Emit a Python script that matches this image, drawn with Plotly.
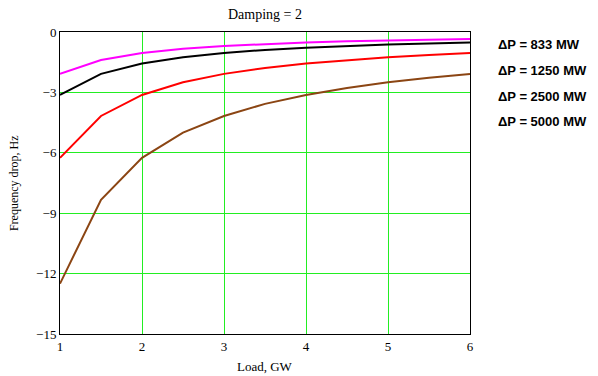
import plotly.graph_objects as go

load_gw = [1, 1.5, 2, 2.5, 3, 3.5, 4, 4.5, 5, 5.5, 6]
drop_833 = [-2.08, -1.39, -1.04, -0.83, -0.69, -0.60, -0.52, -0.46, -0.42, -0.38, -0.35]
drop_1250 = [-3.125, -2.08, -1.56, -1.25, -1.04, -0.89, -0.78, -0.69, -0.625, -0.57, -0.52]
drop_2500 = [-6.25, -4.17, -3.125, -2.5, -2.08, -1.79, -1.56, -1.39, -1.25, -1.14, -1.04]
drop_5000 = [-12.5, -8.33, -6.25, -5.0, -4.17, -3.57, -3.125, -2.78, -2.5, -2.27, -2.08]
series_names = ["ΔP = 833 MW", "ΔP = 1250 MW", "ΔP = 2500 MW", "ΔP = 5000 MW"]
series_colors = ["#ff00ff", "#000000", "#ff0000", "#8b4513"]
y_ticks = [0, -3, -6, -9, -12, -15]
y_tick_labels = ["0", "−3", "−6", "−9", "−12", "−15"]
x_ticks = [1, 2, 3, 4, 5, 6]

fig = go.Figure()
for ys, name, col in zip([drop_833, drop_1250, drop_2500, drop_5000], series_names, series_colors):
    fig.add_trace(go.Scatter(x=load_gw, y=ys, mode="lines", name=name,
                             line=dict(color=col, width=2), showlegend=False))

serif = "Liberation Serif, Times New Roman, serif"
legend_y = [0.957, 0.874, 0.788, 0.705]
for name, yy in zip(series_names, legend_y):
    fig.add_annotation(text="<b>" + name + "</b>", xref="paper", yref="paper",
                       x=1.064, y=yy, xanchor="left", yanchor="middle",
                       showarrow=False,
                       font=dict(family="Liberation Sans, Arial, sans-serif", size=13, color="black"))

fig.add_annotation(text="Load, GW", xref="paper", yref="paper", x=0.5, y=-0.106,
                   xanchor="center", yanchor="middle", showarrow=False,
                   font=dict(family=serif, size=13))
fig.add_annotation(text="Frequency drop, Hz", xref="paper", yref="paper", x=-0.112, y=0.5,
                   xanchor="center", yanchor="middle", showarrow=False, textangle=-90,
                   font=dict(family=serif, size=12))

fig.update_layout(
    width=590, height=368,
    margin=dict(l=52, r=128, t=24, b=42, autoexpand=False),
    paper_bgcolor="white", plot_bgcolor="white",
    font=dict(family=serif, size=13, color="black"),
    title=dict(text="Damping = 2", x=257 / 590, xanchor="center",
               y=1 - 6 / 368, yanchor="middle", font=dict(family=serif, size=14)),
    xaxis=dict(range=[1, 6], tickvals=x_ticks, showgrid=True, gridcolor="#22ee22", gridwidth=1,
               showline=True, linecolor="black", linewidth=1, mirror=True, zeroline=False,
               ticks="", tickfont=dict(family=serif, size=13), automargin=False),
    yaxis=dict(range=[-15, 0], tickvals=y_ticks, ticktext=y_tick_labels, showgrid=True,
               gridcolor="#22ee22", gridwidth=1, showline=True, linecolor="black", linewidth=1,
               mirror=True, zeroline=False, ticks="", tickfont=dict(family=serif, size=13),
               automargin=False),
)
fig.write_html("out.html")
